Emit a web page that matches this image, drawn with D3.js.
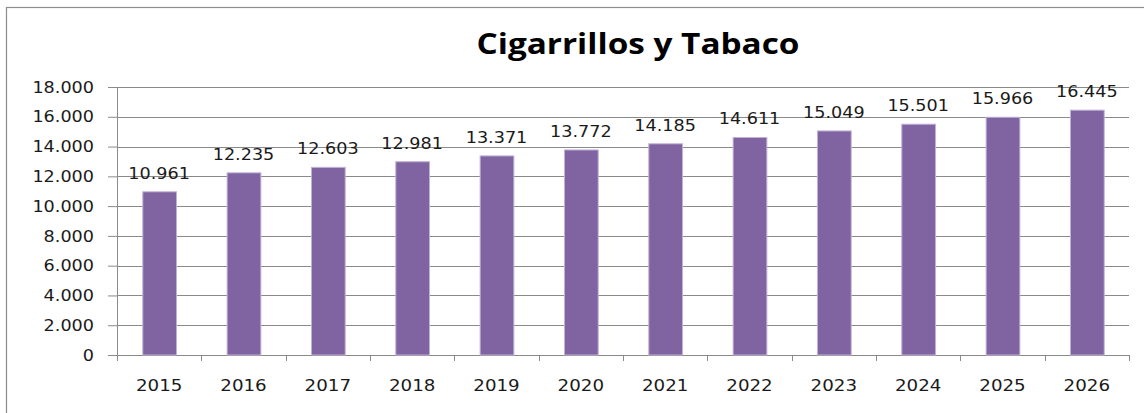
<!DOCTYPE html>
<html>
<head>
<meta charset="utf-8">
<script src="https://cdn.jsdelivr.net/npm/d3@7"></script>
<style>
  body { margin: 0; background: #fff; }
  text { font-family: "DejaVu Sans", Verdana, sans-serif; fill: #1a1a1a; }
</style>
</head>
<body>
<div id="chart"></div>
<script>
// data
var years = ['2015', '2016', '2017', '2018', '2019', '2020', '2021', '2022', '2023', '2024', '2025', '2026']
var values = [10961, 12235, 12603, 12981, 13371, 13772, 14185, 14611, 15049, 15501, 15966, 16445]
var yTicks = [0, 2000, 4000, 6000, 8000, 10000, 12000, 14000, 16000, 18000]
var title = 'Cigarrillos y Tabaco'

var W = 1144, H = 413
var margin = {top: 87, left: 117},
  width = 1129 - margin.left,
  height = 355 - margin.top;

var svg = d3.select("#chart")
.append("svg")
  .attr("width", W)
  .attr("height", H)

// outer chart border
svg.append("rect")
  .attr("x", 6.5).attr("y", 7.5)
  .attr("width", W + 10).attr("height", H + 10)
  .attr("fill", "none")
  .attr("stroke", "#8c8c8c")
  .attr("stroke-width", 1.2)

var g = svg.append("g")
  .attr("transform", "translate(" + margin.left + "," + margin.top + ")");

var numFmt = function(v) { return d3.format(",")(v).replace(/,/g, "."); }

// stretch text horizontally like the original
function stretch(sel, k) {
  sel.each(function() {
    var len = this.getComputedTextLength();
    d3.select(this).attr("textLength", len * k).attr("lengthAdjust", "spacingAndGlyphs");
  });
}

var x = d3.scaleBand()
  .range([0, width])
  .domain(years)
  .paddingInner(0.6)
  .paddingOuter(0.3);

var y = d3.scaleLinear()
  .range([height, 0])
  .domain([0, 18000]);

// gridlines
g.append("g")
  .selectAll("line")
  .data(yTicks.slice(1))
  .enter()
  .append("line")
  .attr("x1", 0).attr("x2", width)
  .attr("y1", function(d) { return Math.round(y(d)) + 0.5 })
  .attr("y2", function(d) { return Math.round(y(d)) + 0.5 })
  .attr("stroke", "#8a8a8a")
  .attr("stroke-width", 1)

// y axis
var yAxis = g.append("g")
  .call(d3.axisLeft(y).tickValues(yTicks).tickSize(9).tickPadding(14).tickFormat(numFmt));
yAxis.select(".domain").attr("stroke", "#8a8a8a");
yAxis.selectAll(".tick line").attr("stroke", "#8a8a8a");
yAxis.selectAll(".tick text")
  .style("font-size", "16px")
  .style("font-family", "'DejaVu Sans', sans-serif")
  .call(stretch, 1.1);

// x axis: ticks on category boundaries
var xAxis = g.append("g")
  .attr("transform", "translate(0," + height + ")");
xAxis.append("line")
  .attr("x1", 0).attr("x2", width)
  .attr("y1", 0.5).attr("y2", 0.5)
  .attr("stroke", "#8a8a8a")
xAxis.selectAll(".bt")
  .data(d3.range(years.length + 1))
  .enter()
  .append("line")
  .attr("x1", function(i) { return Math.round(i * width / years.length) + 0.5 })
  .attr("x2", function(i) { return Math.round(i * width / years.length) + 0.5 })
  .attr("y1", 0).attr("y2", 6)
  .attr("stroke", "#8a8a8a")
xAxis.selectAll(".yl")
  .data(years)
  .enter()
  .append("text")
  .attr("x", function(d) { return x(d) + x.bandwidth() / 2 })
  .attr("y", 36)
  .attr("text-anchor", "middle")
  .style("font-size", "16px")
  .text(function(d) { return d })
  .call(stretch, 1.14);

// bars
g.selectAll(".bar")
  .data(values)
  .enter()
  .append("rect")
  .attr("x", function(d, i) { return x(years[i]) + 0.5 })
  .attr("y", function(d) { return y(d) })
  .attr("width", x.bandwidth())
  .attr("height", function(d) { return height - y(d) })
  .attr("fill", "#8064a2")
  .attr("stroke", "#c0b2d6")
  .attr("stroke-width", 1)

// value labels
g.selectAll(".lbl")
  .data(values)
  .enter()
  .append("text")
  .attr("x", function(d, i) { return x(years[i]) + x.bandwidth() / 2 })
  .attr("y", function(d) { return y(d) - 13 })
  .attr("text-anchor", "middle")
  .style("font-size", "16px")
  .text(numFmt)
  .call(stretch, 1.1);

// title
svg.append("text")
  .attr("x", 638)
  .attr("y", 54)
  .attr("text-anchor", "middle")
  .style("font-family", "'Open Sans', sans-serif")
  .style("font-weight", "bold")
  .style("font-size", "29px")
  .style("fill", "#000")
  .attr("textLength", 323)
  .attr("lengthAdjust", "spacingAndGlyphs")
  .text(title);
</script>
</body>
</html>
